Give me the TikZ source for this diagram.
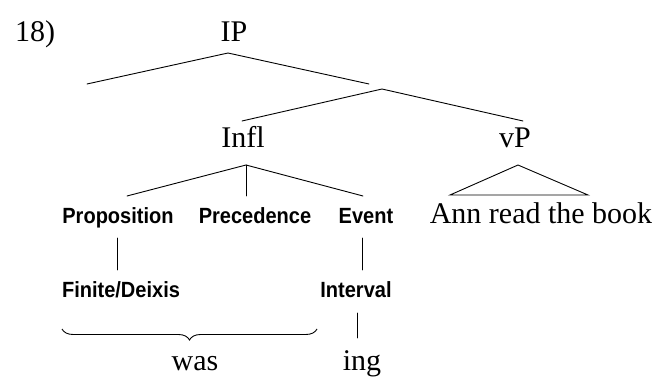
\documentclass[tikz,border=0pt]{standalone}
\usepackage{fontspec}
\setmainfont{Liberation Serif}
\newfontfamily\featfont{Liberation Sans}[FakeStretch=0.91]
\usetikzlibrary{decorations.pathreplacing}
\tikzset{
  serif/.style={inner sep=0pt, anchor=base, font=\fontsize{30}{36}\selectfont},
  feat/.style={inner sep=0pt, anchor=base, font=\featfont\bfseries\fontsize{22}{26}\selectfont},
  branch/.style={line width=0.9pt, line cap=round},
}
\begin{document}
\begin{tikzpicture}[x=1pt,y=-1pt]
\useasboundingbox (0,0) rectangle (659,377);
% labels
\node[serif, anchor=base west] (num) at (15,42) {18)};
\node[serif] (IP) at (234,42) {IP};
\node[serif] (Infl) at (243,148) {Infl};
\node[serif] (vP) at (515,148) {vP};
\node[feat] (prop) at (118,223) {Proposition};
\node[feat] (prec) at (255,223) {Precedence};
\node[feat] (event) at (366,223) {Event};
\node[serif] (ann) at (541,223) {Ann read the book};
\node[feat] (fin) at (121,297) {Finite/Deixis};
\node[feat] (int) at (356,297) {Interval};
\node[serif] (was) at (195,370) {was};
\node[serif] (ing) at (362,370) {ing};
% branch points
\coordinate (ipA) at (228,53);
\coordinate (ipL) at (87,84);
\coordinate (ipR) at (369,84);
\coordinate (ibA) at (382,89);
\coordinate (ibL) at (242,121);
\coordinate (ibR) at (523,121);
\coordinate (inA) at (246,165);
\coordinate (inL) at (127,196);
\coordinate (inM) at (246,196);
\coordinate (inR) at (363,196);
\coordinate (vpA) at (518,165);
\coordinate (vpL) at (450,195);
\coordinate (vpR) at (588,195);
\coordinate (propB) at (117,238);
\coordinate (finT) at (117,270);
\coordinate (evB) at (362,238);
\coordinate (intT) at (362,270);
\coordinate (intB) at (357,313);
\coordinate (ingT) at (357,338);
\coordinate (brL) at (62,329);
\coordinate (brR) at (317,329);
% connectors
\draw[branch] (ipL) -- (ipA) -- (ipR);
\draw[branch] (ibL) -- (ibA) -- (ibR);
\draw[branch] (inL) -- (inA) -- (inR);
\draw[branch] (inA) -- (inM);
\draw[branch] (vpA) -- (vpL) -- (vpR) -- cycle;
\draw[branch] (propB) -- (finT);
\draw[branch] (evB) -- (intT);
\draw[branch] (intB) -- (ingT);
\draw[line width=0.9pt, decorate, decoration={brace, mirror, amplitude=11pt}] (brL) -- (brR);
\end{tikzpicture}
\end{document}
